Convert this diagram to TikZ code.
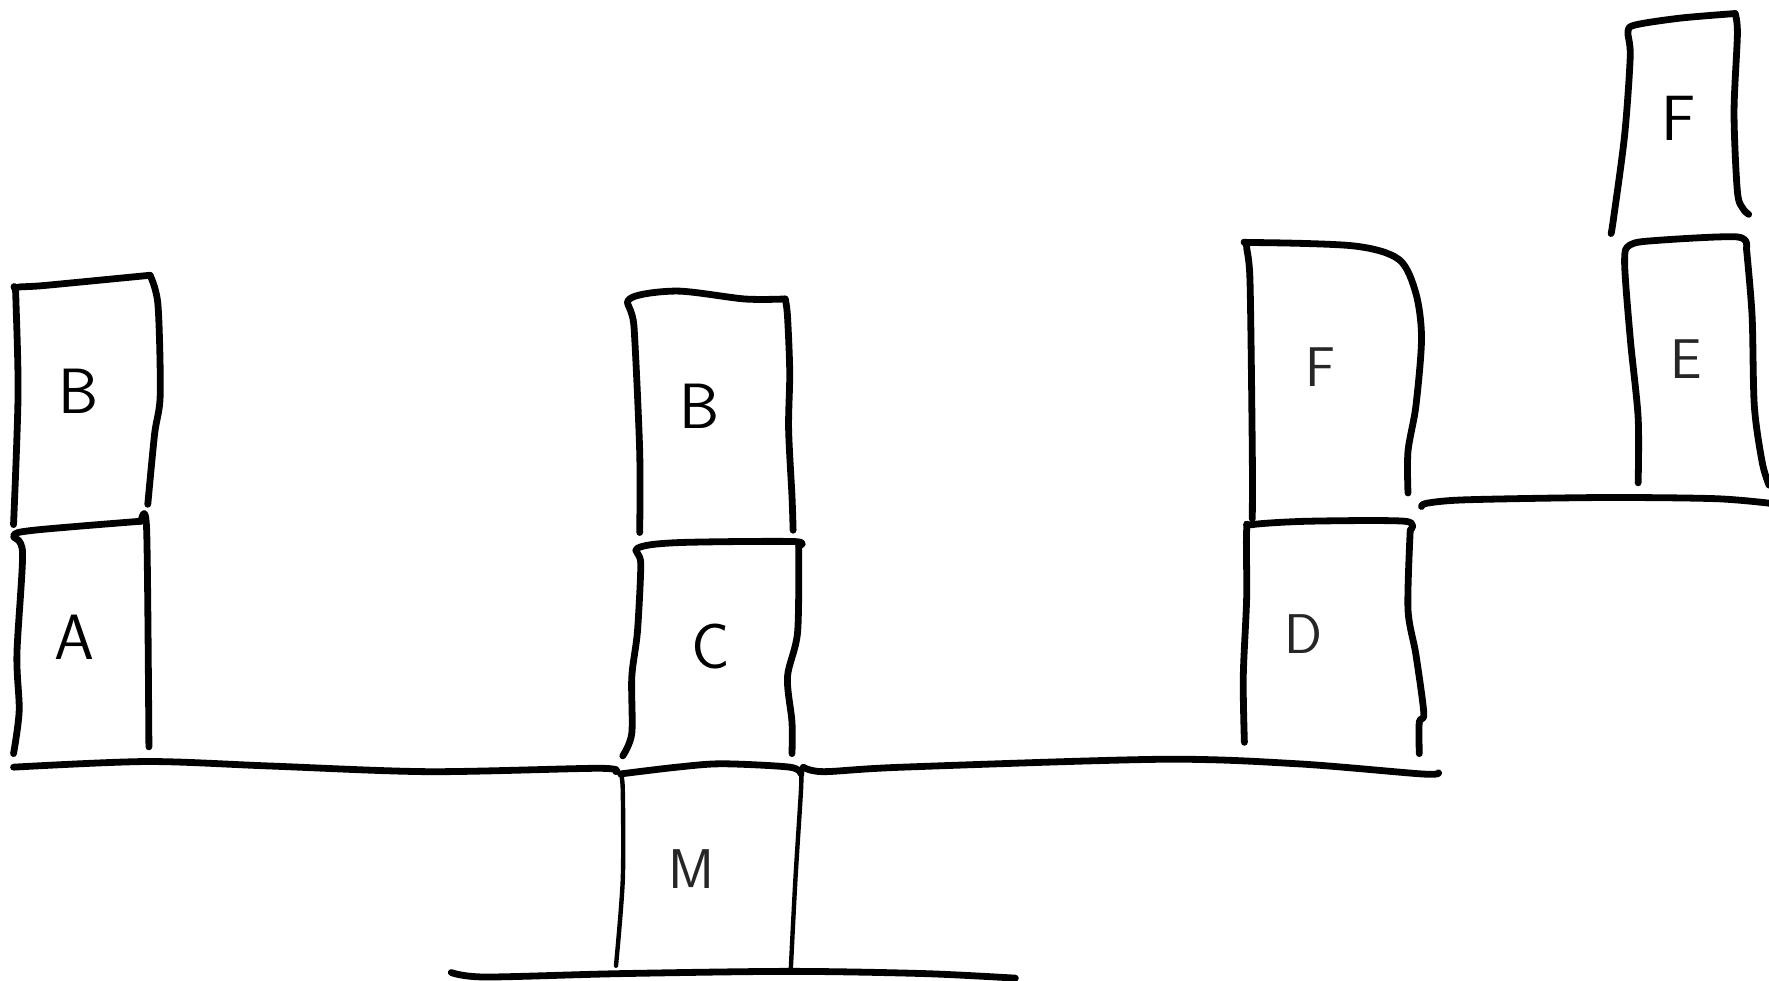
\documentclass[tikz,border=0pt]{standalone}
\begin{document}
\begin{tikzpicture}[x=0.5641pt,y=-0.5641pt,
  ink/.style={line width=3.4pt,line cap=round,line join=round},
  thin/.style={line width=2.2pt,line cap=round,line join=round},
  lab/.style={font=\sffamily\fontsize{32}{32}\selectfont,inner sep=0pt},
  labl/.style={font=\sffamily\fontsize{28}{28}\selectfont,inner sep=0pt,text=black!85}]
\useasboundingbox (0,0) rectangle (1568,869);
% ---------- left stack ----------
\draw[ink] plot[smooth,tension=0.5] coordinates {(12,465) (16,350) (14,262) (14,255) (40,253) (133,244)};
\draw[ink] plot[smooth,tension=0.5] coordinates {(133,244) (140,270) (142,350) (137,385) (131,447)};
\draw[ink] plot[smooth,tension=0.5] coordinates {(12,668) (17,630) (15,580) (20,490) (12,475) (30,470) (125,462)};
\draw[ink] plot[smooth,tension=0.5] coordinates {(125,462) (130,470) (132,662)};
\node[lab] (lb) at (70,347) {B};
\node[lab] (la) at (66,565) {A};
\draw[ink] plot[smooth,tension=0.5] coordinates {(12,680) (130,675) (240,679) (380,684) (530,681) (546,684)};
% ---------- middle stack ----------
\draw[ink] plot[smooth,tension=0.5] coordinates {(567,472) (567,400) (562,290) (558,265) (600,258) (660,265) (696,265)};
\draw[ink] plot[smooth,tension=0.5] coordinates {(696,265) (698,280) (700,330) (699,380) (702,440) (703,470)};
\draw[ink] plot[smooth,tension=0.5] coordinates {(552,670) (560,650) (560,600) (565,560) (568,500) (565,486) (600,481) (703,480) (708,484)};
\draw[ink] plot[smooth,tension=0.5] coordinates {(708,484) (707,560) (698,600) (702,640) (702,668)};
\draw[ink] plot[smooth,tension=0.5] coordinates {(550,686) (600,680) (640,677) (700,680) (710,686)};
\draw[thin] plot[smooth,tension=0.5] coordinates {(550,686) (552,700) (552,780) (546,856)};
\draw[thin] plot[smooth,tension=0.5] coordinates {(710,686) (710,700) (705,780) (701,858)};
\node[lab] (mb) at (620,360) {B};
\node[lab] (mc) at (630,573) {C};
\node[labl] (mm) at (613,770) {M};
\draw[ink] plot[smooth,tension=0.5] coordinates {(400,862) (430,866) (550,863) (700,861) (820,863) (900,867)};
\draw[ink] plot[smooth,tension=0.5] coordinates {(712,680) (730,684) (800,680) (1030,673) (1150,677) (1260,686) (1275,685)};
% ---------- right stack ----------
\draw[ink] plot[smooth,tension=0.5] coordinates {(1110,460) (1110,400) (1108,250) (1105,218) (1110,215) (1200,218) (1240,230) (1255,260) (1260,300) (1255,360) (1248,400) (1248,437)};
\draw[ink] plot[smooth,tension=0.5] coordinates {(1103,658) (1102,600) (1105,530) (1105,470) (1110,465) (1160,462) (1245,462) (1250,470)};
\draw[ink] plot[smooth,tension=0.5] coordinates {(1250,470) (1248,540) (1255,580) (1262,632) (1258,640) (1258,668)};
\node[labl] (rf) at (1170,325) {F};
\node[labl] (rd) at (1155,562) {D};
% ---------- far right ----------
\draw[ink] plot[smooth,tension=0.5] coordinates {(1428,207) (1430,195) (1440,120) (1445,50) (1443,28) (1450,22) (1490,16) (1538,12)};
\draw[ink] plot[smooth,tension=0.5] coordinates {(1538,12) (1540,30) (1537,100) (1540,170) (1545,185) (1550,190)};
\draw[ink] plot[smooth,tension=0.5] coordinates {(1452,428) (1452,370) (1445,300) (1440,232) (1445,217) (1470,213) (1540,210) (1548,220)};
\draw[ink] plot[smooth,tension=0.5] coordinates {(1548,220) (1553,280) (1555,360) (1562,410) (1568,430)};
\draw[ink] plot[smooth,tension=0.5] coordinates {(1260,449) (1265,446) (1300,443) (1420,441) (1520,442) (1568,446)};
\node[lab] (tf) at (1488,105) {F};
\node[labl] (te) at (1495,318) {E};
\end{tikzpicture}
\end{document}
